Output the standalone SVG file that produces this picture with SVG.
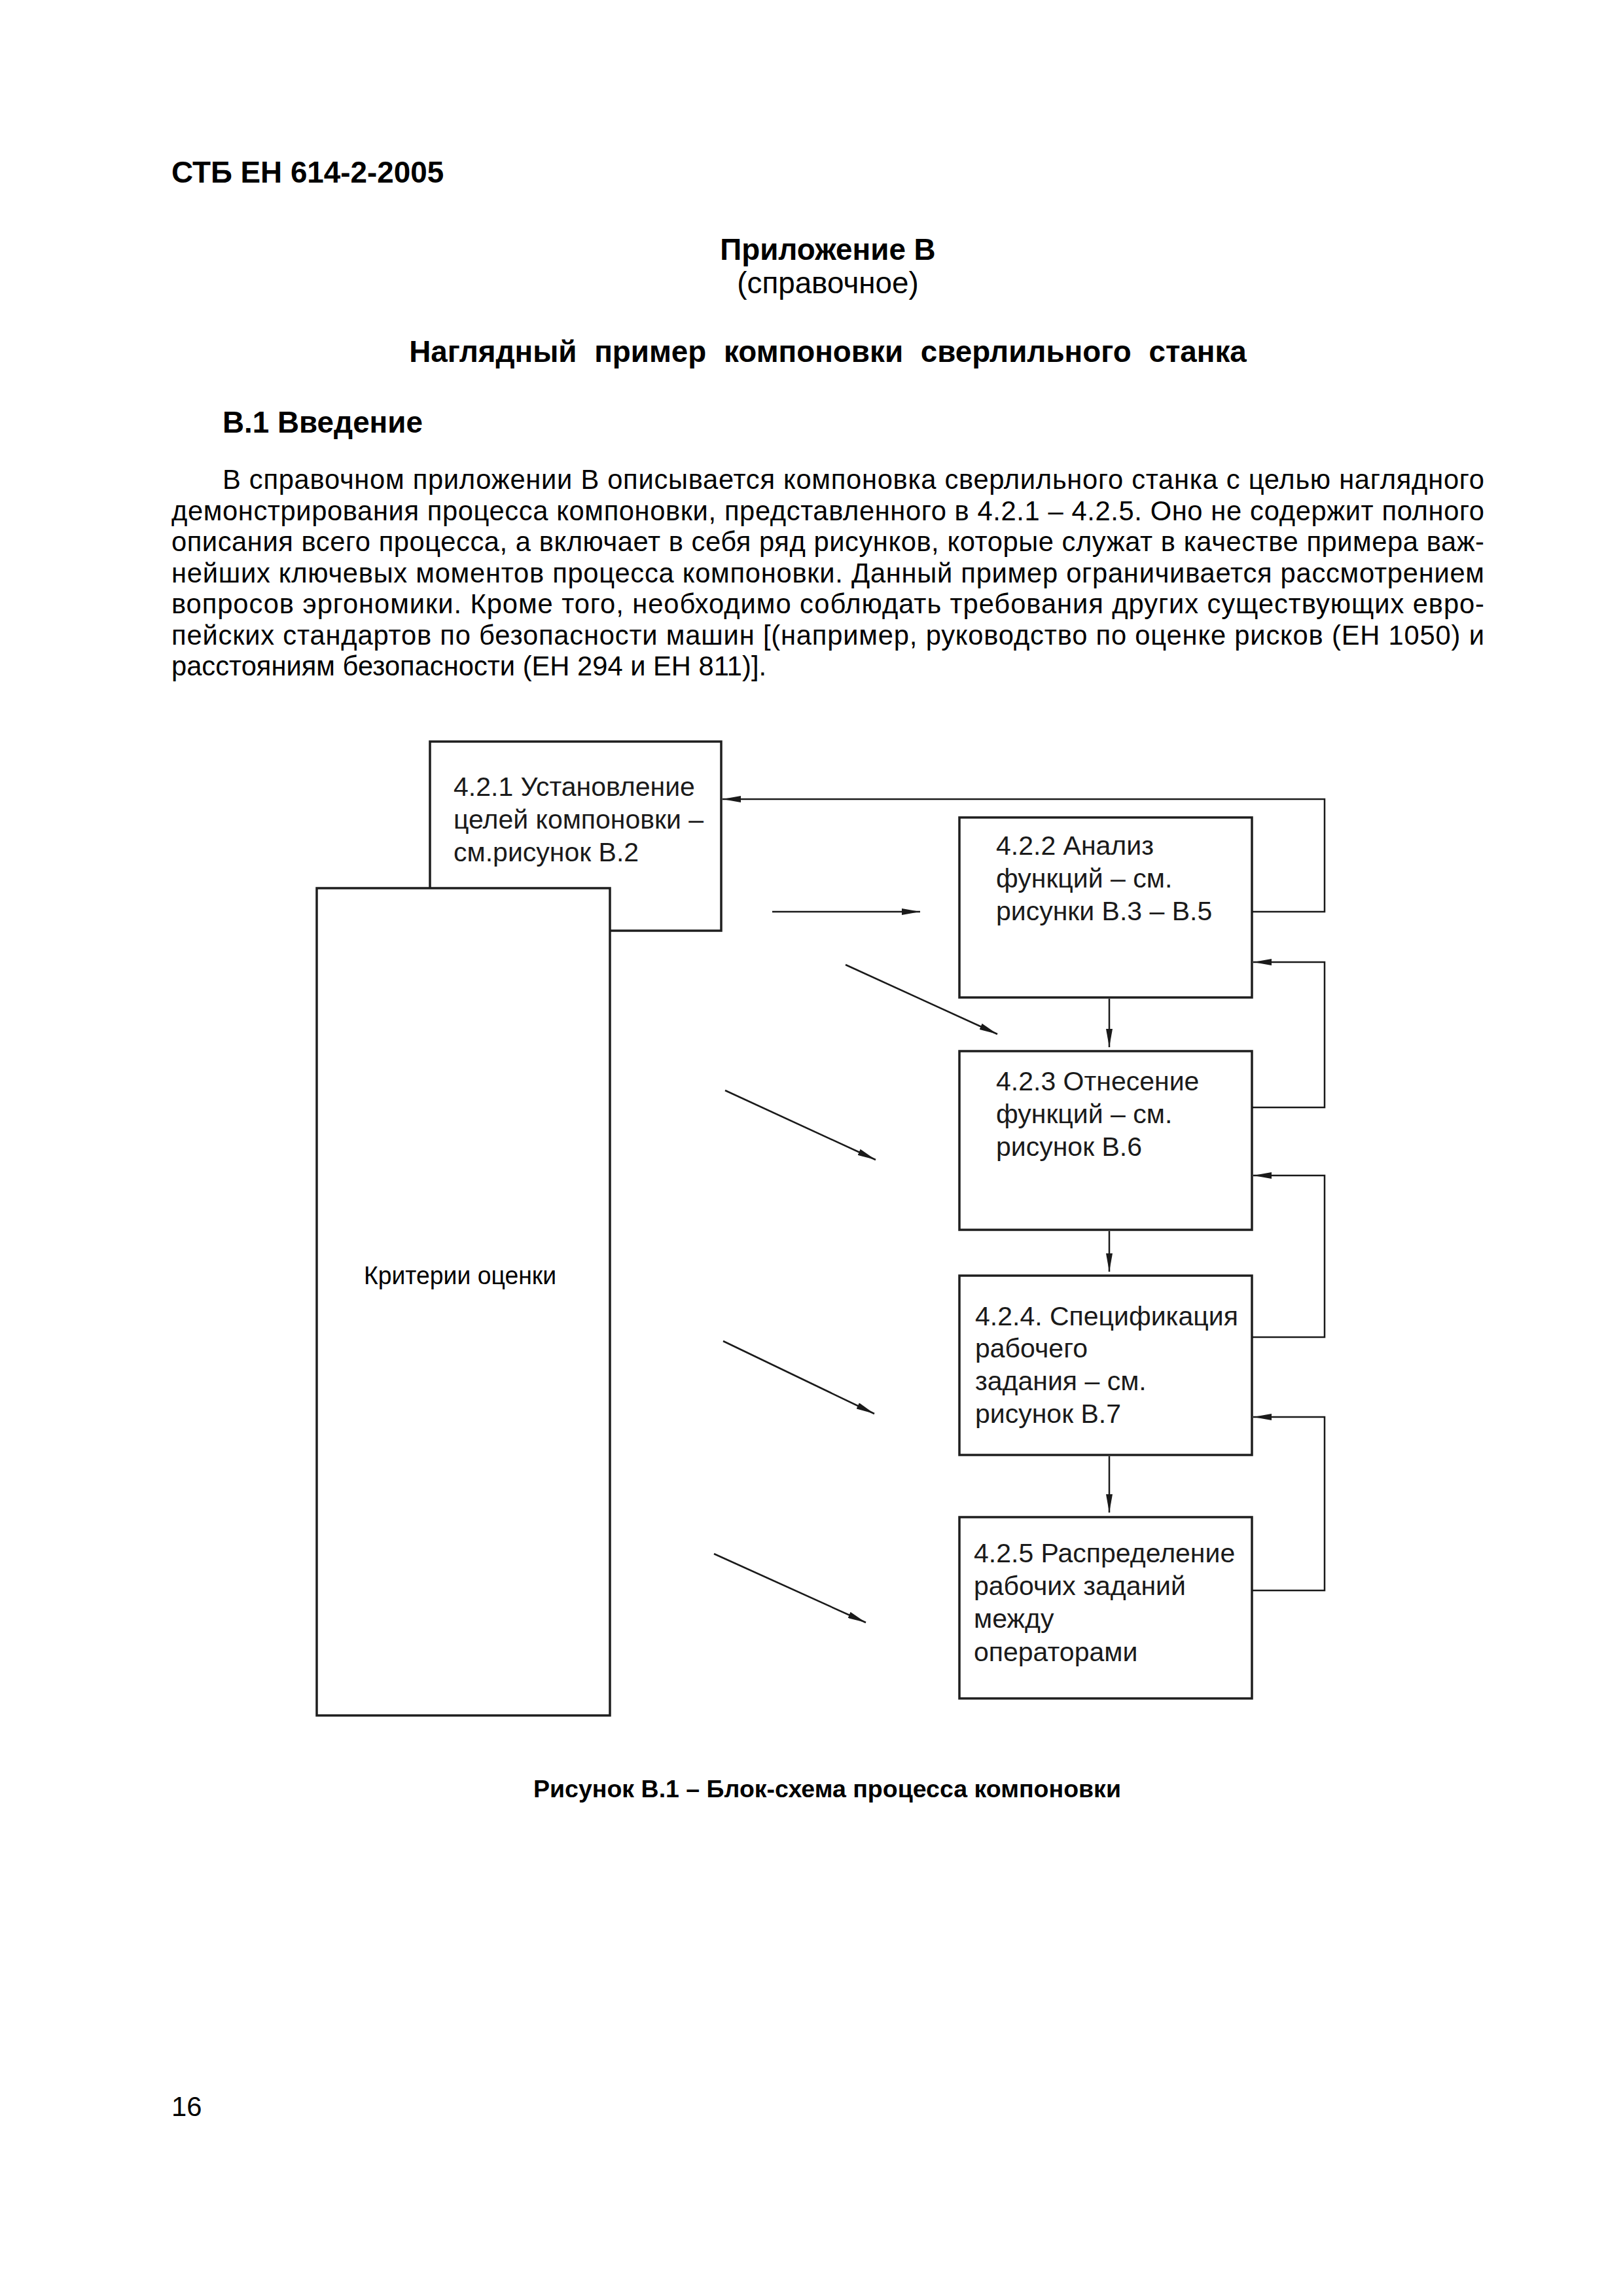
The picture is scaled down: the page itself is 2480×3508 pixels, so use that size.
<svg xmlns="http://www.w3.org/2000/svg" width="2480" height="3508" viewBox="0 0 2480 3508">
  <style>
    text { font-family: "Liberation Sans", Arial, "DejaVu Sans", sans-serif; fill: #000; }
    .b { font-weight: bold; }
    .body { font-size: 41.7px; }
    .hd { font-size: 45.8px; }
    .node rect { fill: #fff; stroke: #1e1e1e; stroke-width: 3.5; }
    .nt { font-size: 41px; fill: #1a1a1a; }
    .conn { fill: none; stroke: #1a1a1a; stroke-width: 2.5; }
  </style>
  <defs>
    <marker id="ah" viewBox="0 0 28 10" refX="28" refY="5" markerUnits="userSpaceOnUse" markerWidth="28" markerHeight="10" orient="auto">
      <path d="M0,0 L28,5 L0,10 z" fill="#1a1a1a"/>
    </marker>
  </defs>
  <rect width="2480" height="3508" fill="#fff"/>

  <!-- Page text -->
  <text class="hd b" x="262" y="279">СТБ ЕН 614-2-2005</text>
  <text class="hd b" x="1265" y="397" text-anchor="middle">Приложение В</text>
  <text class="hd" x="1265" y="448" text-anchor="middle" font-size="44">(справочное)</text>
  <text class="hd b" x="1265" y="553" text-anchor="middle" word-spacing="14">Наглядный пример компоновки сверлильного станка</text>
  <text class="hd b" x="340" y="661">В.1 Введение</text>

  <g class="body">
    <text class="body" x="340" y="747" textLength="1928" lengthAdjust="spacing">В справочном приложении В описывается компоновка сверлильного станка с целью наглядного</text>
    <text class="body" x="262" y="795" textLength="2006" lengthAdjust="spacing">демонстрирования процесса компоновки, представленного в 4.2.1 – 4.2.5. Оно не содержит полного</text>
    <text class="body" x="262" y="842" textLength="2006" lengthAdjust="spacing">описания всего процесса, а включает в себя ряд рисунков, которые служат в качестве примера важ-</text>
    <text class="body" x="262" y="890" textLength="2006" lengthAdjust="spacing">нейших ключевых моментов процесса компоновки. Данный пример ограничивается рассмотрением</text>
    <text class="body" x="262" y="937" textLength="2006" lengthAdjust="spacing">вопросов эргономики. Кроме того, необходимо соблюдать требования других существующих евро-</text>
    <text class="body" x="262" y="985" textLength="2006" lengthAdjust="spacing">пейских стандартов по безопасности машин [(например, руководство по оценке рисков (ЕН 1050) и</text>
    <text class="body" x="262" y="1032">расстояниям безопасности (ЕН 294 и ЕН 811)].</text>
  </g>

  <!-- Nodes -->
  <g id="node-421" class="node">
    <rect x="657" y="1133" width="445" height="289"/>
    <text class="nt" x="693" y="1216">4.2.1 Установление</text>
    <text class="nt" x="693" y="1266">целей компоновки –</text>
    <text class="nt" x="693" y="1316">см.рисунок В.2</text>
  </g>
  <g id="node-criteria" class="node">
    <rect x="484" y="1357" width="448" height="1264"/>
    <text x="703" y="1962" text-anchor="middle" font-size="38" textLength="294" lengthAdjust="spacingAndGlyphs" fill="#1a1a1a">Критерии оценки</text>
  </g>
  <g id="node-422" class="node">
    <rect x="1466" y="1249" width="447" height="275"/>
    <text class="nt" x="1522" y="1306">4.2.2 Анализ</text>
    <text class="nt" x="1522" y="1356">функций – см.</text>
    <text class="nt" x="1522" y="1406">рисунки В.3 – В.5</text>
  </g>
  <g id="node-423" class="node">
    <rect x="1466" y="1606" width="447" height="273"/>
    <text class="nt" x="1522" y="1666">4.2.3 Отнесение</text>
    <text class="nt" x="1522" y="1716">функций – см.</text>
    <text class="nt" x="1522" y="1766">рисунок В.6</text>
  </g>
  <g id="node-424" class="node">
    <rect x="1466" y="1949" width="447" height="274"/>
    <text class="nt" x="1490" y="2025">4.2.4. Спецификация</text>
    <text class="nt" x="1490" y="2074">рабочего</text>
    <text class="nt" x="1490" y="2124">задания – см.</text>
    <text class="nt" x="1490" y="2174">рисунок В.7</text>
  </g>
  <g id="node-425" class="node">
    <rect x="1466" y="2318" width="447" height="277"/>
    <text class="nt" x="1488" y="2387">4.2.5 Распределение</text>
    <text class="nt" x="1488" y="2437">рабочих заданий</text>
    <text class="nt" x="1488" y="2487">между</text>
    <text class="nt" x="1488" y="2538">операторами</text>
  </g>

  <!-- Connectors -->
  <g id="connectors" class="conn">
    <line x1="1180" y1="1393" x2="1406" y2="1393" marker-end="url(#ah)"/>
    <line x1="1292" y1="1474" x2="1524" y2="1580" marker-end="url(#ah)"/>
    <line x1="1108" y1="1666" x2="1338" y2="1772" marker-end="url(#ah)"/>
    <line x1="1105" y1="2049" x2="1336" y2="2160" marker-end="url(#ah)"/>
    <line x1="1091" y1="2374" x2="1323" y2="2479" marker-end="url(#ah)"/>

    <line x1="1695" y1="1526" x2="1695" y2="1600" marker-end="url(#ah)"/>
    <line x1="1695" y1="1881" x2="1695" y2="1943" marker-end="url(#ah)"/>
    <line x1="1695" y1="2225" x2="1695" y2="2311" marker-end="url(#ah)"/>

    <polyline points="1913,1393 2024,1393 2024,1221 1104,1221" marker-end="url(#ah)"/>
    <polyline points="1913,1692 2024,1692 2024,1470 1915,1470" marker-end="url(#ah)"/>
    <polyline points="1913,2043 2024,2043 2024,1796 1915,1796" marker-end="url(#ah)"/>
    <polyline points="1913,2430 2024,2430 2024,2165 1915,2165" marker-end="url(#ah)"/>
  </g>

  <text class="b" x="1264" y="2746" text-anchor="middle" font-size="37.5">Рисунок В.1 – Блок-схема процесса компоновки</text>
  <text x="262" y="3233" font-size="41.7">16</text>
</svg>
